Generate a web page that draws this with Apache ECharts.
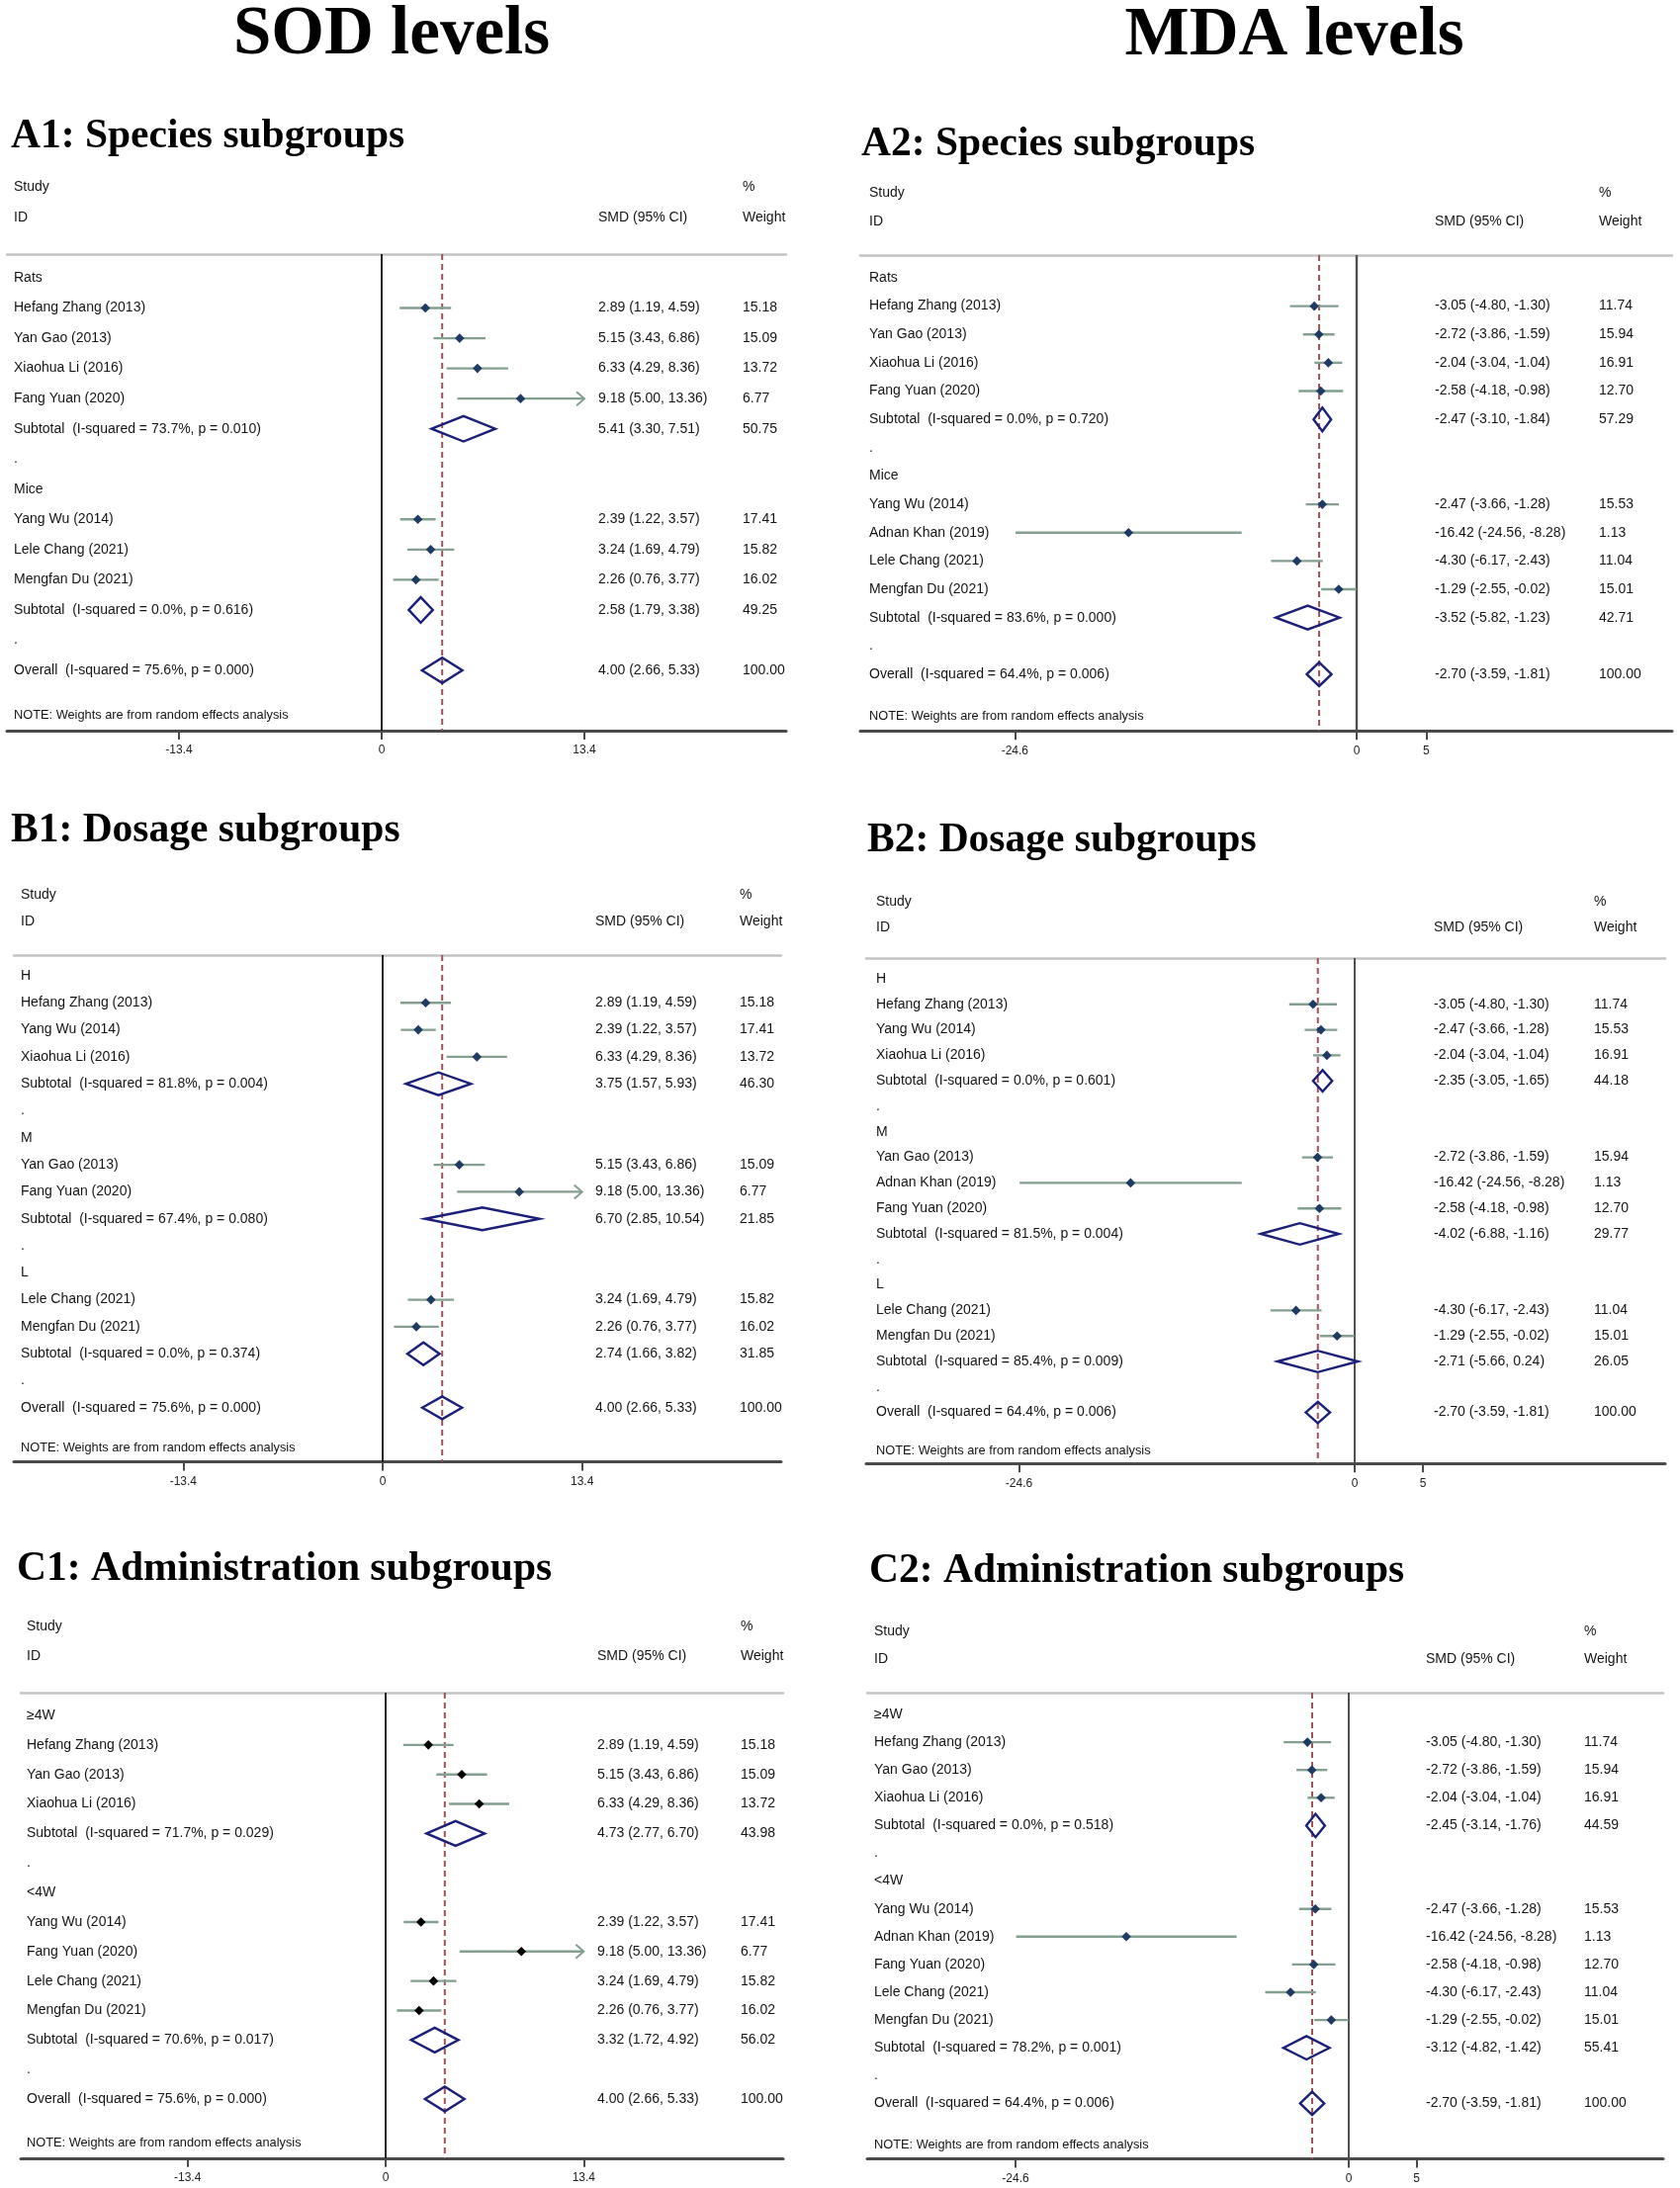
<!DOCTYPE html>
<html><head><meta charset="utf-8">
<script src="https://cdn.jsdelivr.net/npm/echarts@6/dist/echarts.min.js"></script>
<style>html,body{margin:0;padding:0;background:#fff;}#c{width:1699px;height:2213px;}</style>
</head><body><div id="c"></div>
<script>
// ------------------------- DATA -------------------------
const sodTicks = [-13.4, 0, 13.4];
const mdaTicks = [-24.6, 0, 5];
const headLeft = ['Study', 'ID'];
const headMid = ['', 'SMD (95% CI)'];
const headRight = ['%', 'Weight'];
const noteText = 'NOTE: Weights are from random effects analysis';
const bigTitles = ['SOD levels', 'MDA levels'];
const panelTitles = ['A1: Species subgroups', 'A2: Species subgroups', 'B1: Dosage subgroups', 'B2: Dosage subgroups', 'C1: Administration subgroups', 'C2: Administration subgroups'];

// A1: SOD species
const a1Labels = ['Rats','Hefang Zhang (2013)','Yan Gao (2013)','Xiaohua Li (2016)','Fang Yuan (2020)','Subtotal  (I-squared = 73.7%, p = 0.010)','.','Mice','Yang Wu (2014)','Lele Chang (2021)','Mengfan Du (2021)','Subtotal  (I-squared = 0.0%, p = 0.616)','.','Overall  (I-squared = 75.6%, p = 0.000)'];
const a1Est = [null,2.89,5.15,6.33,9.18,5.41,null,null,2.39,3.24,2.26,2.58,null,4.00];
const a1Lo  = [null,1.19,3.43,4.29,5.00,3.30,null,null,1.22,1.69,0.76,1.79,null,2.66];
const a1Hi  = [null,4.59,6.86,8.36,13.36,7.51,null,null,3.57,4.79,3.77,3.38,null,5.33];
const a1Wt  = [null,15.18,15.09,13.72,6.77,50.75,null,null,17.41,15.82,16.02,49.25,null,100.00];

// A2: MDA species
const a2Labels = ['Rats','Hefang Zhang (2013)','Yan Gao (2013)','Xiaohua Li (2016)','Fang Yuan (2020)','Subtotal  (I-squared = 0.0%, p = 0.720)','.','Mice','Yang Wu (2014)','Adnan Khan (2019)','Lele Chang (2021)','Mengfan Du (2021)','Subtotal  (I-squared = 83.6%, p = 0.000)','.','Overall  (I-squared = 64.4%, p = 0.006)'];
const a2Est = [null,-3.05,-2.72,-2.04,-2.58,-2.47,null,null,-2.47,-16.42,-4.30,-1.29,-3.52,null,-2.70];
const a2Lo  = [null,-4.80,-3.86,-3.04,-4.18,-3.10,null,null,-3.66,-24.56,-6.17,-2.55,-5.82,null,-3.59];
const a2Hi  = [null,-1.30,-1.59,-1.04,-0.98,-1.84,null,null,-1.28,-8.28,-2.43,-0.02,-1.23,null,-1.81];
const a2Wt  = [null,11.74,15.94,16.91,12.70,57.29,null,null,15.53,1.13,11.04,15.01,42.71,null,100.00];

// B1: SOD dosage
const b1Labels = ['H','Hefang Zhang (2013)','Yang Wu (2014)','Xiaohua Li (2016)','Subtotal  (I-squared = 81.8%, p = 0.004)','.','M','Yan Gao (2013)','Fang Yuan (2020)','Subtotal  (I-squared = 67.4%, p = 0.080)','.','L','Lele Chang (2021)','Mengfan Du (2021)','Subtotal  (I-squared = 0.0%, p = 0.374)','.','Overall  (I-squared = 75.6%, p = 0.000)'];
const b1Est = [null,2.89,2.39,6.33,3.75,null,null,5.15,9.18,6.70,null,null,3.24,2.26,2.74,null,4.00];
const b1Lo  = [null,1.19,1.22,4.29,1.57,null,null,3.43,5.00,2.85,null,null,1.69,0.76,1.66,null,2.66];
const b1Hi  = [null,4.59,3.57,8.36,5.93,null,null,6.86,13.36,10.54,null,null,4.79,3.77,3.82,null,5.33];
const b1Wt  = [null,15.18,17.41,13.72,46.30,null,null,15.09,6.77,21.85,null,null,15.82,16.02,31.85,null,100.00];

// B2: MDA dosage
const b2Labels = ['H','Hefang Zhang (2013)','Yang Wu (2014)','Xiaohua Li (2016)','Subtotal  (I-squared = 0.0%, p = 0.601)','.','M','Yan Gao (2013)','Adnan Khan (2019)','Fang Yuan (2020)','Subtotal  (I-squared = 81.5%, p = 0.004)','.','L','Lele Chang (2021)','Mengfan Du (2021)','Subtotal  (I-squared = 85.4%, p = 0.009)','.','Overall  (I-squared = 64.4%, p = 0.006)'];
const b2Est = [null,-3.05,-2.47,-2.04,-2.35,null,null,-2.72,-16.42,-2.58,-4.02,null,null,-4.30,-1.29,-2.71,null,-2.70];
const b2Lo  = [null,-4.80,-3.66,-3.04,-3.05,null,null,-3.86,-24.56,-4.18,-6.88,null,null,-6.17,-2.55,-5.66,null,-3.59];
const b2Hi  = [null,-1.30,-1.28,-1.04,-1.65,null,null,-1.59,-8.28,-0.98,-1.16,null,null,-2.43,-0.02,0.24,null,-1.81];
const b2Wt  = [null,11.74,15.53,16.91,44.18,null,null,15.94,1.13,12.70,29.77,null,null,11.04,15.01,26.05,null,100.00];

// C1: SOD administration
const c1Labels = ['\u22654W','Hefang Zhang (2013)','Yan Gao (2013)','Xiaohua Li (2016)','Subtotal  (I-squared = 71.7%, p = 0.029)','.','<4W','Yang Wu (2014)','Fang Yuan (2020)','Lele Chang (2021)','Mengfan Du (2021)','Subtotal  (I-squared = 70.6%, p = 0.017)','.','Overall  (I-squared = 75.6%, p = 0.000)'];
const c1Est = [null,2.89,5.15,6.33,4.73,null,null,2.39,9.18,3.24,2.26,3.32,null,4.00];
const c1Lo  = [null,1.19,3.43,4.29,2.77,null,null,1.22,5.00,1.69,0.76,1.72,null,2.66];
const c1Hi  = [null,4.59,6.86,8.36,6.70,null,null,3.57,13.36,4.79,3.77,4.92,null,5.33];
const c1Wt  = [null,15.18,15.09,13.72,43.98,null,null,17.41,6.77,15.82,16.02,56.02,null,100.00];

// C2: MDA administration
const c2Labels = ['\u22654W','Hefang Zhang (2013)','Yan Gao (2013)','Xiaohua Li (2016)','Subtotal  (I-squared = 0.0%, p = 0.518)','.','<4W','Yang Wu (2014)','Adnan Khan (2019)','Fang Yuan (2020)','Lele Chang (2021)','Mengfan Du (2021)','Subtotal  (I-squared = 78.2%, p = 0.001)','.','Overall  (I-squared = 64.4%, p = 0.006)'];
const c2Est = [null,-3.05,-2.72,-2.04,-2.45,null,null,-2.47,-16.42,-2.58,-4.30,-1.29,-3.12,null,-2.70];
const c2Lo  = [null,-4.80,-3.86,-3.04,-3.14,null,null,-3.66,-24.56,-4.18,-6.17,-2.55,-4.82,null,-3.59];
const c2Hi  = [null,-1.30,-1.59,-1.04,-1.76,null,null,-1.28,-8.28,-0.98,-2.43,-0.02,-1.42,null,-1.81];
const c2Wt  = [null,11.74,15.94,16.91,44.59,null,null,15.53,1.13,12.70,11.04,15.01,55.41,null,100.00];

// ------------------------- LAYOUT (pixels) -------------------------
const FONT = 'Liberation Sans, Arial, sans-serif';
const SERIF = 'Liberation Serif, Times New Roman, serif';
const layouts = [
  {x0:7,   x1:795,  zero:386,  ppu:15.3,  headY:257, row0:281, step:30.54, textX:14,  smdX:605,  wX:751,  titleX:11,  titleY:138},
  {x0:870, x1:1691, zero:1372, ppu:14.05, headY:258, row0:281, step:28.64, textX:879, smdX:1451, wX:1617, titleX:871, titleY:146},
  {x0:14,  x1:790,  zero:387,  ppu:15.05, headY:966, row0:987, step:27.3,  textX:21,  smdX:602,  wX:748,  titleX:11,  titleY:840},
  {x0:876, x1:1684, zero:1370, ppu:13.8,  headY:969, row0:990, step:25.8,  textX:886, smdX:1450, wX:1612, titleX:877, titleY:850},
  {x0:21,  x1:792,  zero:390,  ppu:14.95, headY:1712,row0:1735,step:29.85, textX:27,  smdX:604,  wX:749,  titleX:17,  titleY:1587},
  {x0:877, x1:1682, zero:1364, ppu:13.7,  headY:1712,row0:1734,step:28.1,  textX:884, smdX:1442, wX:1602, titleX:879, titleY:1589}
];
const panels = [
  {labels:a1Labels, est:a1Est, lo:a1Lo, hi:a1Hi, wt:a1Wt, ticks:sodTicks, marker:'#1f3a63', zeroColor:'#111', zeroW:1.8},
  {labels:a2Labels, est:a2Est, lo:a2Lo, hi:a2Hi, wt:a2Wt, ticks:mdaTicks, marker:'#1f3a63', zeroColor:'#505050', zeroW:2.4},
  {labels:b1Labels, est:b1Est, lo:b1Lo, hi:b1Hi, wt:b1Wt, ticks:sodTicks, marker:'#1f3a63', zeroColor:'#111', zeroW:1.8},
  {labels:b2Labels, est:b2Est, lo:b2Lo, hi:b2Hi, wt:b2Wt, ticks:mdaTicks, marker:'#1f3a63', zeroColor:'#505050', zeroW:2.0},
  {labels:c1Labels, est:c1Est, lo:c1Lo, hi:c1Hi, wt:c1Wt, ticks:sodTicks, marker:'#000000', zeroColor:'#111', zeroW:1.8},
  {labels:c2Labels, est:c2Est, lo:c2Lo, hi:c2Hi, wt:c2Wt, ticks:mdaTicks, marker:'#1f3a63', zeroColor:'#505050', zeroW:2.0}
];
const CI_COLOR = '#84a090';
const DIAMOND_COLOR = '#1b1f78';
const DASH_COLOR = '#a0525a';
const TEXT_COLOR = '#141414';

function fmt(v){ return v.toFixed(2); }
function isPooled(l){ return l.indexOf('Subtotal') === 0 || l.indexOf('Overall') === 0; }

const option = {animation:false, backgroundColor:'#ffffff', grid:[], xAxis:[], yAxis:[], series:[], graphic:[]};

// big titles & panel titles
option.graphic.push({type:'text', x:396, y:36, style:{text:bigTitles[0], fill:'#000', font:'bold 69px ' + SERIF, textAlign:'center', textVerticalAlign:'middle'}});
option.graphic.push({type:'text', x:1309, y:37, style:{text:bigTitles[1], fill:'#000', font:'bold 69px ' + SERIF, textAlign:'center', textVerticalAlign:'middle'}});

panels.forEach((p, i) => {
  const L = layouts[i];
  const N = p.labels.length - 1;
  const yMin = (L.headY - L.row0) / L.step;
  const yMax = N + 2;
  const axisY = L.row0 + yMax * L.step;
  const xmin = (L.x0 - L.zero) / L.ppu;
  const xmax = (L.x1 - L.zero) / L.ppu;
  const overall = p.est[N];
  const arrowAt = p.ticks[p.ticks.length - 1];

  option.graphic.push({type:'text', x:L.titleX, y:L.titleY, style:{text:panelTitles[i], fill:'#000', font:'bold 41.5px ' + SERIF, textAlign:'left', textVerticalAlign:'middle'}});

  option.grid.push({left:L.x0, top:L.headY, width:L.x1 - L.x0, height:axisY - L.headY, containLabel:false});
  option.xAxis.push({type:'value', gridIndex:i, position:'bottom', min:xmin, max:xmax, splitLine:{show:false},
    axisLine:{show:true, onZero:false, lineStyle:{color:'#4a4a4a', width:3}},
    axisTick:{show:true, customValues:p.ticks, length:9, lineStyle:{color:'#4a4a4a', width:2}},
    axisLabel:{show:true, customValues:p.ticks, margin:14, fontSize:12, fontFamily:FONT, color:'#222'}});
  option.xAxis.push({type:'value', gridIndex:i, position:'top', min:xmin, max:xmax, splitLine:{show:false},
    axisLine:{show:true, onZero:false, lineStyle:{color:'#c4c4c4', width:2.5}}, axisTick:{show:false}, axisLabel:{show:false}});
  option.yAxis.push({type:'value', gridIndex:i, inverse:true, min:yMin, max:yMax, show:false});

  const xIdx = 2 * i;

  // reference lines: zero (solid) and overall estimate (dashed)
  option.series.push({type:'custom', xAxisIndex:xIdx, yAxisIndex:i, clip:false, z:1,
    data:[[0, 0], [overall, 1]],
    encode:{x:0, y:1},
    renderItem:(params, api) => {
      const v = api.value(0), kind = api.value(1);
      const a = api.coord([v, yMin]), b = api.coord([v, yMax]);
      return {type:'line', shape:{x1:a[0], y1:a[1], x2:b[0], y2:b[1]},
        style: kind === 0 ? {stroke:p.zeroColor, lineWidth:p.zeroW} : {stroke:DASH_COLOR, lineWidth:2, lineDash:[6,4]}};
    }});

  // study CIs with markers
  const studyData = [];
  const pooledData = [];
  p.labels.forEach((l, r) => {
    if (p.est[r] === null) return;
    if (isPooled(l)) pooledData.push([p.est[r], r, p.lo[r], p.hi[r]]);
    else studyData.push([p.est[r], r, p.lo[r], p.hi[r]]);
  });
  option.series.push({type:'custom', xAxisIndex:xIdx, yAxisIndex:i, clip:false, z:3,
    data:studyData, encode:{x:0, y:1},
    renderItem:(params, api) => {
      const est = api.value(0), row = api.value(1), lo = api.value(2), hi = api.value(3);
      const arrow = hi > arrowAt - 0.5;
      const end = arrow ? arrowAt : hi;
      const a = api.coord([lo, row]), b = api.coord([end, row]), m = api.coord([est, row]);
      const children = [{type:'line', shape:{x1:a[0], y1:a[1], x2:b[0], y2:b[1]}, style:{stroke:CI_COLOR, lineWidth:2.4}}];
      if (arrow) children.push({type:'polyline', shape:{points:[[b[0]-8, b[1]-7],[b[0], b[1]],[b[0]-8, b[1]+7]]}, style:{stroke:CI_COLOR, lineWidth:2, fill:null}});
      const s = 4.8;
      children.push({type:'polygon', shape:{points:[[m[0], m[1]-s],[m[0]+s, m[1]],[m[0], m[1]+s],[m[0]-s, m[1]]]}, style:{fill:p.marker}});
      return {type:'group', children};
    }});

  // pooled diamonds
  option.series.push({type:'custom', xAxisIndex:xIdx, yAxisIndex:i, clip:false, z:3,
    data:pooledData, encode:{x:0, y:1},
    renderItem:(params, api) => {
      const est = api.value(0), row = api.value(1), lo = api.value(2), hi = api.value(3);
      const h = 0.42;
      const pts = [api.coord([lo, row]), api.coord([est, row - h]), api.coord([hi, row]), api.coord([est, row + h])];
      return {type:'polygon', shape:{points:pts}, style:{fill:null, stroke:DIAMOND_COLOR, lineWidth:2.4}};
    }});

  // row texts
  option.series.push({type:'custom', xAxisIndex:xIdx, yAxisIndex:i, clip:false, z:4,
    data:p.labels.map((l, r) => [0, r]), encode:{x:0, y:1},
    renderItem:(params, api) => {
      const r = api.value(1);
      const y = api.coord([0, r])[1];
      const st = (t) => ({text:t, fill:TEXT_COLOR, font:'14px ' + FONT, textAlign:'left', textVerticalAlign:'middle'});
      const children = [{type:'text', x:L.textX, y:y, style:st(p.labels[r])}];
      if (p.est[r] !== null) {
        children.push({type:'text', x:L.smdX, y:y, style:st(fmt(p.est[r]) + ' (' + fmt(p.lo[r]) + ', ' + fmt(p.hi[r]) + ')')});
        children.push({type:'text', x:L.wX, y:y, style:st(fmt(p.wt[r]))});
      }
      return {type:'group', children};
    }});

  // headers & note
  option.series.push({type:'custom', xAxisIndex:xIdx, yAxisIndex:i, clip:false, z:4,
    data:[[0, -3], [0, -2], [0, N + 1.5]], encode:{x:0, y:1},
    renderItem:(params, api) => {
      const k = params.dataIndex;
      const y = api.coord([0, api.value(1)])[1];
      const st = (t, fs) => ({text:t, fill:TEXT_COLOR, font:fs + 'px ' + FONT, textAlign:'left', textVerticalAlign:'middle'});
      if (k === 2) return {type:'text', x:L.textX, y:y, style:st(noteText, 12.8)};
      const children = [{type:'text', x:L.textX, y:y, style:st(headLeft[k], 14)},
                        {type:'text', x:L.wX, y:y, style:st(headRight[k], 14)}];
      if (headMid[k]) children.push({type:'text', x:L.smdX, y:y, style:st(headMid[k], 14)});
      return {type:'group', children};
    }});
});

const chart = echarts.init(document.getElementById('c'), null, {renderer:'canvas', width:1699, height:2213});
chart.setOption(option);
</script>
</body></html>
